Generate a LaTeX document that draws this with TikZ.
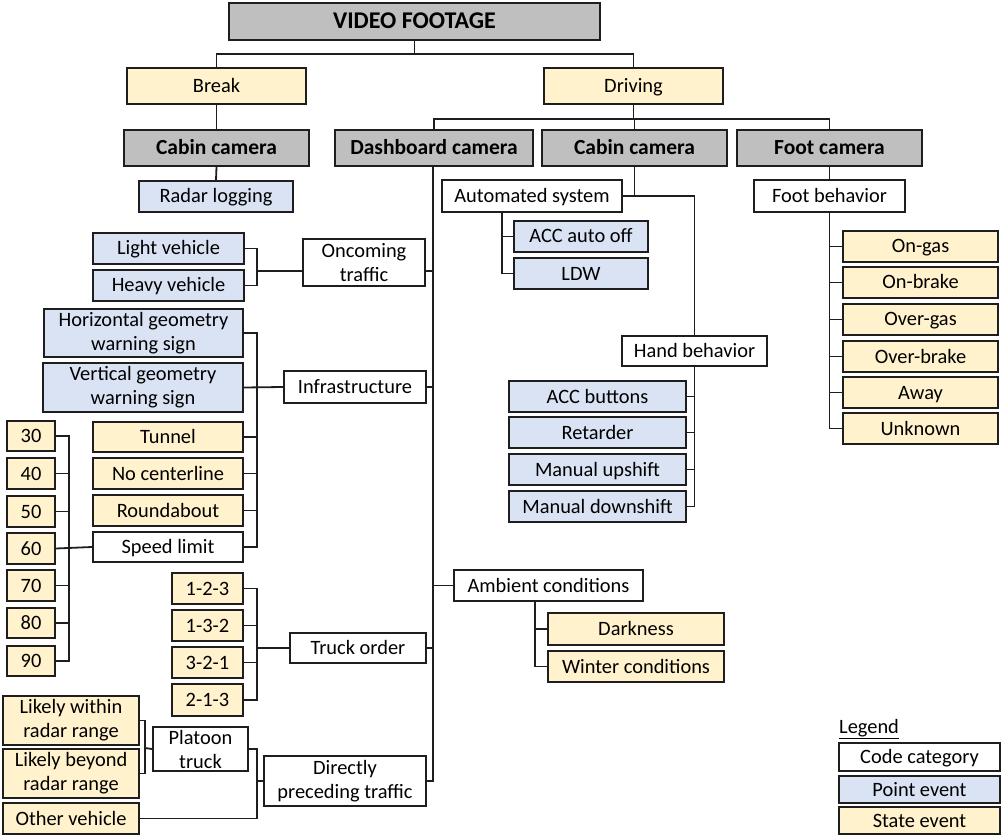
\documentclass[tikz,border=0pt]{standalone}
\usepackage{fontspec}
\setmainfont{Carlito}
\definecolor{headgray}{HTML}{BFBFBF}
\definecolor{stateyellow}{HTML}{FFF2CC}
\definecolor{pointblue}{HTML}{DAE3F3}
\definecolor{edge}{HTML}{1E1E1E}
\tikzset{
  base/.style={draw=edge, line width=1.8pt, rectangle, inner sep=0pt, align=center,
    font=\fontsize{20.4}{24}\selectfont, text height=16pt, text depth=3pt},
  cat/.style={base, fill=white},
  head/.style={base, fill=headgray, font=\fontsize{21.5}{24}\selectfont\bfseries},
  stateev/.style={base, fill=stateyellow},
  pointev/.style={base, fill=pointblue},
  twoline/.style={text height=, text depth=},
  link/.style={draw=edge, line width=1.8pt}
}
% box given by its corners: style, name, x1, y1, x2, y2, text
\newcommand\bx[7]{\node[#1, minimum width={(#5)-(#3)}, minimum height={(#6)-(#4)}]
  (#2) at ({((#3)+(#5))/2},{((#4)+(#6))/2}) {#7};}
\begin{document}
\begin{tikzpicture}[x=1pt,y=-1pt]
\useasboundingbox (0,0) rectangle (1002,837);

% top levels
\bx{head, font=\fontsize{24}{28}\selectfont\bfseries, text height=18pt}{video}{229}{3}{600}{40}{VIDEO FOOTAGE}
\bx{stateev}{brk}{127}{68}{306}{104}{Break}
\bx{stateev}{drv}{544}{68}{723}{104}{Driving}
\bx{head}{cabL}{124}{130}{309}{166}{Cabin camera}
\bx{head}{dash}{335}{130}{533}{166}{Dashboard camera}
\bx{head}{cabR}{542}{130}{727}{166}{Cabin camera}
\bx{head}{footcam}{737}{130}{922}{166}{Foot camera}
\bx{pointev}{radar}{139}{181}{293}{212}{Radar logging}

% cabin camera (driving)
\bx{cat}{auto}{442}{180}{622}{212}{Automated system}
\bx{pointev}{accoff}{514}{221}{648}{252}{ACC auto off}
\bx{pointev}{ldw}{514}{258}{648}{289}{LDW}
\bx{cat}{hand}{622}{336}{767}{366}{Hand behavior}
\bx{pointev}{accb}{509}{381}{686}{412}{ACC buttons}
\bx{pointev}{retard}{509}{417}{686}{448}{Retarder}
\bx{pointev}{mup}{509}{454}{686}{485}{Manual upshift}
\bx{pointev}{mdown}{509}{491}{686}{522}{Manual downshift}

% foot camera
\bx{cat}{footb}{754}{180}{905}{212}{Foot behavior}
\bx{stateev}{ongas}{843}{231}{998}{262}{On-gas}
\bx{stateev}{onbrake}{843}{267}{998}{298}{On-brake}
\bx{stateev}{overgas}{843}{304}{998}{335}{Over-gas}
\bx{stateev}{overbrake}{843}{341}{998}{372}{Over-brake}
\bx{stateev}{away}{843}{377}{998}{408}{Away}
\bx{stateev}{unknown}{843}{413}{998}{444}{Unknown}

% dashboard camera
\bx{cat,twoline}{oncoming}{303}{239}{425}{286}{Oncoming\\traffic}
\bx{pointev}{light}{93}{233}{244}{264}{Light vehicle}
\bx{pointev}{heavy}{93}{270}{244}{301}{Heavy vehicle}
\bx{cat}{infra}{284}{371}{426}{403}{Infrastructure}
\bx{pointev,twoline}{hgeo}{44}{309}{243}{357}{Horizontal geometry\\warning sign}
\bx{pointev,twoline}{vgeo}{43}{363}{243}{412}{Vertical geometry\\warning sign}
\bx{stateev}{tunnel}{93}{422}{243}{452}{Tunnel}
\bx{stateev}{nocl}{93}{458}{243}{489}{No centerline}
\bx{stateev}{round}{93}{495}{243}{526}{Roundabout}
\bx{cat}{speed}{93}{532}{243}{562}{Speed limit}
\bx{stateev}{s30}{7}{421}{55}{451}{30}
\bx{stateev}{s40}{7}{458}{55}{489}{40}
\bx{stateev}{s50}{7}{496}{55}{527}{50}
\bx{stateev}{s60}{7}{533}{55}{564}{60}
\bx{stateev}{s70}{7}{570}{55}{601}{70}
\bx{stateev}{s80}{7}{608}{55}{638}{80}
\bx{stateev}{s90}{7}{646}{55}{676}{90}
\bx{cat}{ambient}{454}{570}{643}{601}{Ambient conditions}
\bx{stateev}{dark}{548}{613}{724}{645}{Darkness}
\bx{stateev}{winter}{548}{651}{724}{682}{Winter conditions}
\bx{cat}{truck}{290}{633}{426}{663}{Truck order}
\bx{stateev}{t123}{172}{573}{243}{604}{1-2-3}
\bx{stateev}{t132}{172}{610}{243}{641}{1-3-2}
\bx{stateev}{t321}{172}{647}{243}{678}{3-2-1}
\bx{stateev}{t213}{172}{684}{243}{716}{2-1-3}
\bx{cat,twoline}{platoon}{153}{727}{248}{771}{Platoon\\truck}
\bx{stateev,twoline}{lwithin}{3}{696}{139}{745}{Likely within\\radar range}
\bx{stateev,twoline}{lbeyond}{3}{749}{139}{798}{Likely beyond\\radar range}
\bx{stateev}{other}{3}{803}{139}{834}{Other vehicle}
\bx{cat,twoline}{direct}{264}{756}{426}{806}{Directly\\preceding traffic}

% legend
\node[anchor=base west, font=\fontsize{20.4}{24}\selectfont, inner sep=0pt] (legend) at (839,733) {\underline{Legend}};
\bx{cat}{lcode}{839}{743}{1000}{771}{Code category}
\bx{pointev}{lpoint}{839}{776}{1000}{803}{Point event}
\bx{stateev}{lstate}{839}{807}{1000}{834}{State event}

% junction points of the connectors
\coordinate (busTop) at (414.5,54);
\coordinate (busDrv) at (633.5,119);
\coordinate (jOn) at (257,271);
\coordinate (jInf) at (257,387);
\coordinate (jSp) at (69,548);
\coordinate (jTr) at (257,648);
\coordinate (jDir) at (257,781);
\coordinate (jPl) at (145,748);
\coordinate (jAm) at (535,601);
\coordinate (jAu) at (502,212);
\coordinate (trunk) at (433,781);

% connectors
\draw[link] (video.south) -- (busTop);
\draw[link] (brk.north) |- (busTop) -| (drv.north);
\draw[link] (brk.south) -- (cabL.north);
\draw[link] (cabL.south) -- (radar.north);
\draw[link] (drv.south) -- (busDrv);
\draw[link] (dash.north) |- (busDrv) -| (footcam.north);
\draw[link] (cabR.north) -- (cabR.north |- busDrv);

% dashboard trunk
\draw[link] (dash.south -| trunk) -- (trunk) -- (direct.east);
\draw[link] (jOn -| oncoming.east) -- (jOn -| trunk);
\draw[link] (infra.east) -- (infra.east -| trunk);
\draw[link] (truck.east) -- (truck.east -| trunk);
\draw[link] (ambient.west) -- (ambient.west -| trunk);

\draw[link] (light.east) -| (jOn) |- (heavy.east);
\draw[link] (jOn) -- (jOn -| oncoming.west);

\draw[link] (hgeo.east) -| (jInf) |- (speed.east);
\draw[link] (vgeo.east) -- (infra.west);
\draw[link] (tunnel.east) -- (tunnel.east -| jInf);
\draw[link] (nocl.east) -- (nocl.east -| jInf);
\draw[link] (round.east) -- (round.east -| jInf);

\draw[link] (s30.east) -| (jSp) |- (s90.east);
\draw[link] (s60.east) -- (speed.west);
\draw[link] (s40.east) -- (s40.east -| jSp);
\draw[link] (s50.east) -- (s50.east -| jSp);
\draw[link] (s70.east) -- (s70.east -| jSp);
\draw[link] (s80.east) -- (s80.east -| jSp);

\draw[link] (t123.east) -| (jTr) |- (t213.east);
\draw[link] (jTr) -- (truck.west);
\draw[link] (t132.east) -- (t132.east -| jTr);
\draw[link] (t321.east) -- (t321.east -| jTr);

\draw[link] (platoon.east) -| (jDir) |- (other.east);
\draw[link] (jDir) -- (direct.west);
\draw[link] (lwithin.east) -| (jPl) |- (lbeyond.east);
\draw[link] (jPl) -- (platoon.west);

\draw[link] (jAm) |- (winter.west);
\draw[link] (dark.west) -- (dark.west -| jAm);

% cabin camera (driving) connectors
\draw[link] (cabR.south) -- (cabR.south |- auto.east);
\draw[link] (auto.east) -| (hand.north);
\draw[link] (jAu) |- (ldw.west);
\draw[link] (accoff.west) -- (accoff.west -| jAu);
\draw[link] (hand.south) |- (mdown.east);
\draw[link] (accb.east) -- (accb.east -| hand.south);
\draw[link] (retard.east) -- (retard.east -| hand.south);
\draw[link] (mup.east) -- (mup.east -| hand.south);

% foot camera connectors
\draw[link] (footcam.south) -- (footb.north);
\draw[link] (footb.south) |- (unknown.west);
\foreach \n in {ongas,onbrake,overgas,overbrake,away}
  \draw[link] (\n.west) -- (\n.west -| footb.south);
\end{tikzpicture}
\end{document}
